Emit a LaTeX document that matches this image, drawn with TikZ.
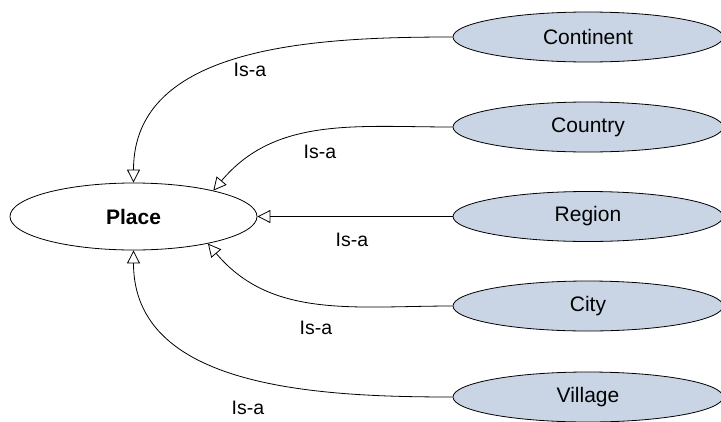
\documentclass[tikz,border=0pt]{standalone}
\usepackage{fontspec}
\setmainfont{Liberation Sans}
\usetikzlibrary{shapes.geometric,arrows.meta}
\definecolor{classfill}{RGB}{201,213,229}
\begin{document}
\begin{tikzpicture}[x=1pt,y=-1pt,
  font=\fontsize{19.5}{22}\selectfont,
  concept/.style={ellipse,draw=black,line width=0.8pt,inner sep=0pt,
    minimum width=270pt,minimum height=50pt,fill=classfill,
    font=\fontsize{21}{24}\selectfont},
  root/.style={ellipse,draw=black,line width=0.8pt,inner sep=0pt,
    minimum width=247pt,minimum height=67pt,fill=white,
    font=\fontsize{21}{24}\selectfont\bfseries},
  isa/.style={draw=black,line width=0.8pt,
    -{Triangle[open,length=13pt,width=13pt,line width=0.8pt]}},
  lbl/.style={inner sep=0pt}]
\useasboundingbox (0,0) rectangle (721,421);
\node[root] (place) at (133.5,216.5) {Place};
\node[concept] (continent) at (588,37) {Continent};
\node[concept] (country) at (588,127) {Country};
\node[concept] (region) at (588,216.5) {Region};
\node[concept] (city) at (588,306) {City};
\node[concept] (village) at (588,397) {Village};

\draw[isa] (continent.west) to[out=180,in=90] (place.north);
\draw[isa] (country.west) to[out=180,in=50] (place.18);
\draw[isa] (region.west) -- (place.east);
\draw[isa] (city.west) to[out=180,in=-50] (place.-20);
\draw[isa] (village.west) to[out=180,in=-90] (place.south);

\node[lbl] (l1) at (250,70) {Is-a};
\node[lbl] (l2) at (320,152) {Is-a};
\node[lbl] (l3) at (352,240) {Is-a};
\node[lbl] (l4) at (316,328) {Is-a};
\node[lbl] (l5) at (248,408) {Is-a};
\end{tikzpicture}
\end{document}
